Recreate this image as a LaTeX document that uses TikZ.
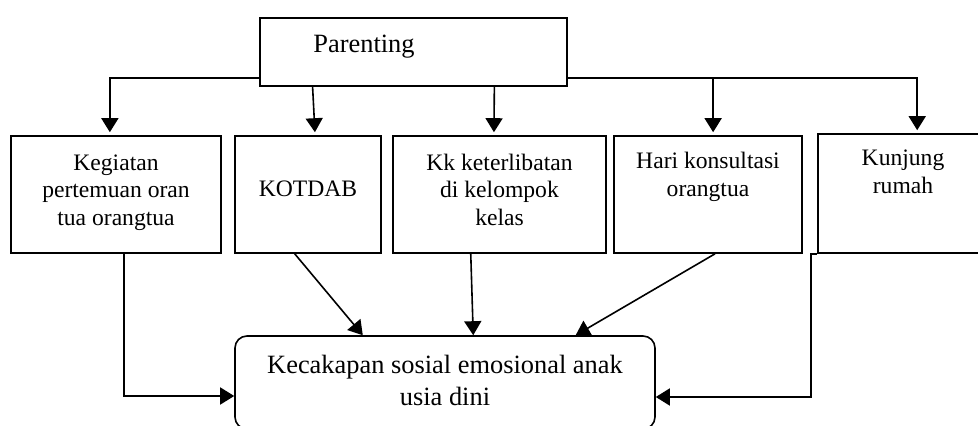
\documentclass[tikz,border=0pt]{standalone}
\usepackage{fontspec}
\setmainfont{Liberation Serif}
\usetikzlibrary{arrows.meta,calc}
\tikzset{
  box/.style={draw, line width=0.8pt, inner sep=0pt},
  boxtext/.style={inner sep=0pt, align=center, font=\fontsize{11.8}{13.8}\selectfont},
  bigtext/.style={inner sep=0pt, align=center, font=\fontsize{13.2}{16}\selectfont},
  conn/.style={line width=0.8pt, -{Triangle[length=7pt,width=8.5pt]}},
  connt/.style={conn, shorten >=1.5pt}
}
\begin{document}
\begin{tikzpicture}[x=0.5pt,y=-0.5pt]
\useasboundingbox (0,0) rectangle (978,426);
\clip (0,0) rectangle (978,426);
% boxes
\node[box, minimum width=153.5pt, minimum height=34pt] (par) at (413.5,52) {};
\node[box, minimum width=105pt, minimum height=58.5pt] (k1) at (116,194.5) {};
\node[box, minimum width=73pt, minimum height=58.5pt] (k2) at (308,194.5) {};
\node[box, minimum width=106.5pt, minimum height=58.5pt] (k3) at (499.5,194.5) {};
\node[box, minimum width=94pt, minimum height=58.5pt] (k4) at (708,194.5) {};
\node[box, minimum width=86pt, minimum height=59.5pt] (k5) at (904,193.5) {};
\node[box, rounded corners=6pt, minimum width=210pt, minimum height=46.5pt] (fin) at (445,382.5) {};
% texts
\node[bigtext, anchor=base] (tpar) at (364,53) {Parenting};
\node[boxtext, anchor=north] (t1) at (116,150.5) {\strut Kegiatan\\pertemuan oran\\tua orangtua};
\node[boxtext, anchor=base] (t2) at (308,197) {KOTDAB};
\node[boxtext, anchor=north] (t3) at (499.5,150.5) {\strut Kk keterlibatan\\di kelompok\\kelas};
\node[boxtext, anchor=north] (t4) at (708,149) {\strut Hari konsultasi\\orangtua};
\node[boxtext, anchor=north] (t5) at (903,146) {\strut Kunjung\\rumah};
\node[bigtext, anchor=north] (tfin) at (445,350.6) {\strut Kecakapan sosial emosional anak\\usia dini};
% helper coordinates
\coordinate (pl) at ([yshift=4.5pt]par.south west);
\coordinate (pr) at ([yshift=4.5pt]par.south east);
\coordinate (k1in) at ($(k1.north west)!0.471!(k1.north east)$);
\coordinate (k2in) at ($(k2.north west)!0.548!(k2.north east)$);
\coordinate (k3in) at ($(k3.north west)!0.474!(k3.north east)$);
\coordinate (k4in) at ($(k4.north west)!0.527!(k4.north east)$);
\coordinate (k5in) at ($(k5.north west)!0.576!(k5.north east)$);
\coordinate (f2) at ($(fin.north west)!0.305!(fin.north east)$);
\coordinate (f3) at ($(fin.north west)!0.567!(fin.north east)$);
\coordinate (f4) at ($(fin.north west)!0.81!(fin.north east)$);
% top connectors
\draw[connt] (pl) -| (k1in);
\draw[connt] ($(par.south west)!0.173!(par.south east)$) -- (k2in);
\draw[connt] ($(par.south west)!0.762!(par.south east)$) -- (k3in);
\draw[connt] (pr) -| (k5in);
\draw[connt] (k4in |- pr) -- (k4in);
% bottom connectors
\draw[conn] ($(k1.south west)!0.538!(k1.south east)$) |- ([yshift=-6.75pt]fin.west);
\draw[conn] ($(k2.south west)!0.41!(k2.south east)$) -- (f2);
\draw[conn] ($(k3.south west)!0.366!(k3.south east)$) -- (f3);
\draw[conn] ($(k4.south west)!0.537!(k4.south east)$) -- (f4);
\draw[conn] (k5.south west) -- ++(-6,0) |- ([yshift=-7.25pt]fin.east);
\end{tikzpicture}
\end{document}
